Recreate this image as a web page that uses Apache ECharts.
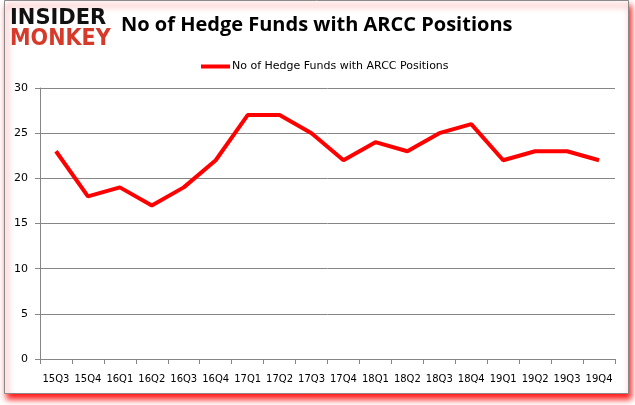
<!DOCTYPE html>
<html><head><meta charset="utf-8">
<script src="https://cdn.jsdelivr.net/npm/echarts@6/dist/echarts.min.js"></script>
<style>html,body{margin:0;padding:0;background:#fff}#c{width:635px;height:405px}</style>
</head><body><div id="c"></div>
<script>
const categories = ['15Q3','15Q4','16Q1','16Q2','16Q3','16Q4','17Q1','17Q2','17Q3','17Q4','18Q1','18Q2','18Q3','18Q4','19Q1','19Q2','19Q3','19Q4'];
const fundCounts = [23,18,19,17,19,22,27,27,25,22,24,23,25,26,22,23,23,22];
const seriesName = 'No of Hedge Funds with ARCC Positions';
const titleText = 'No of Hedge Funds with ARCC Positions';

const chart = echarts.init(document.getElementById('c'), null, {renderer:'canvas'});
chart.setOption({
  animation:false,
  backgroundColor:'#fff',
  graphic:[
    {type:'rect', z:-10, shape:{x:4.5,y:0.5,width:624,height:393},
     style:{fill:'#fff', stroke:'#8a8a8a', lineWidth:1, shadowColor:'rgba(255,0,0,0.9)', shadowBlur:6, shadowOffsetX:2, shadowOffsetY:5}},
    {type:'text', left:10, top:8, style:{text:'INSIDER', fill:'#111', font:'900 21px "DejaVu Sans"'}},
    {type:'text', left:10, top:28, style:{text:'MONKEY', fill:'#d63a2a', font:'900 23px "DejaVu Sans Condensed"'}},
    {type:'text', left:121, top:15, style:{text:titleText, fill:'#000', font:'bold 20px "Open Sans"'}}
  ],
  legend:{
    data:[{name:seriesName, icon:'rect'}],
    left:196, top:56, itemWidth:29, itemHeight:4, itemGap:4,
    textStyle:{fontFamily:'DejaVu Sans', fontSize:11, color:'#000', padding:[0,0,0,-3]}
  },
  grid:{left:40, right:20, top:88, bottom:46, containLabel:false},
  xAxis:{
    type:'category', data:categories, boundaryGap:true,
    axisLine:{lineStyle:{color:'#868686'}},
    axisTick:{show:true, alignWithLabel:false, length:5, lineStyle:{color:'#868686'}},
    axisLabel:{color:'#000', fontFamily:'DejaVu Sans', fontSize:10, margin:15, interval:0}
  },
  yAxis:{
    type:'value', min:0, max:30, interval:5,
    axisLine:{show:true, lineStyle:{color:'#868686'}},
    axisTick:{show:true, length:5, lineStyle:{color:'#868686'}},
    splitLine:{lineStyle:{color:'#868686'}},
    axisLabel:{color:'#000', fontFamily:'DejaVu Sans', fontSize:11, margin:12}
  },
  series:[{
    name:seriesName, type:'line', data:fundCounts, showSymbol:false, symbol:'none',
    lineStyle:{color:'#ff0000', width:4}, itemStyle:{color:'#ff0000'}
  }]
});
</script></body></html>
